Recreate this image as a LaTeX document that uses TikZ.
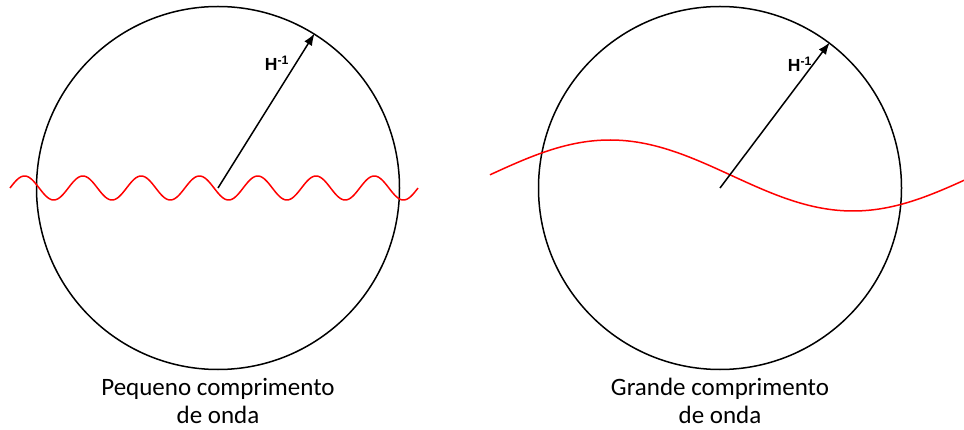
\documentclass[tikz,border=0pt]{standalone}
\usepackage{fontspec}
\setmainfont{Carlito}
\newfontfamily\arialfont{Liberation Sans}
\usetikzlibrary{arrows.meta}
\begin{document}
\begin{tikzpicture}[x=1pt,y=-1pt,
  ring/.style={circle,draw=black,line width=1.5pt,minimum size=363pt,inner sep=0pt},
  radius arrow/.style={line width=1.5pt,-{Latex[length=12pt,width=9pt]}},
  wave/.style={red,line width=1.5pt},
  hlabel/.style={font=\arialfont\bfseries\fontsize{17.5}{20}\selectfont,inner sep=0pt},
  caption/.style={font=\fontsize{25}{27.5}\selectfont,align=center,inner sep=0pt,anchor=base}]
\useasboundingbox (0,0) rectangle (964,430);
% left
\node[ring] (c1) at (218,188) {};
\draw[wave] plot[domain=10:418,samples=400,smooth] (\x,{188-12*sin(6.1760*(\x-10))});
\draw[radius arrow] (c1.center) -- (c1.58.5);
\node[hlabel] (h1) at (277,63) {H\textsuperscript{-1}};
\node[caption] (t1) at (218,423) {Pequeno comprimento\\de onda};
% right
\node[ring] (c2) at (720,188) {};
\draw[wave] plot[domain=490:964,samples=300,smooth] (\x,{175.5-35.5*cos(0.74074*(\x-610))});
\draw[radius arrow] (c2.center) -- (c2.53);
\node[hlabel] (h2) at (800,64) {H\textsuperscript{-1}};
\node[caption] (t2) at (720,423) {Grande comprimento\\de onda};
\end{tikzpicture}
\end{document}
